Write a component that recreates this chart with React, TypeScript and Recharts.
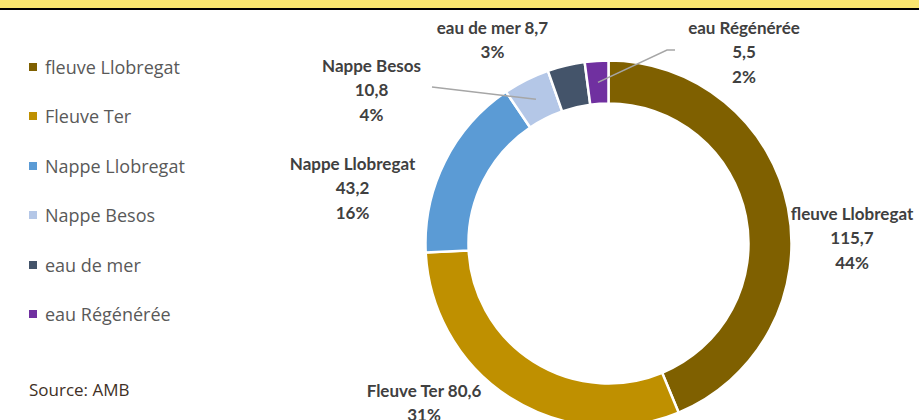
import { Cell, Pie, PieChart } from "recharts";

const categories = ["fleuve Llobregat", "Fleuve Ter", "Nappe Llobregat", "Nappe Besos", "eau de mer", "eau Régénérée"];
const volumes = [115.7, 80.6, 43.2, 10.8, 8.7, 5.5];
const shareLabels = ["44%", "31%", "16%", "4%", "3%", "2%"];

const COLORS = ["#7F6000", "#BF9000", "#5B9BD5", "#B4C7E7", "#44546A", "#7030A0"];

// where each data label sits, relative to the pie centre
const LABEL_POS = [
  { dx: 243.5, dy: -30.5, inline: false, line: null as null | number[] },
  { dx: -184.5, dy: 146.5, inline: true, line: null },
  { dx: -256, dy: -80.5, inline: false, line: null },
  { dx: -237, dy: -178.5, inline: false, line: [-176.5, -156.5, 0] },
  { dx: -116, dy: -216.5, inline: true, line: null },
  { dx: 135.5, dy: -216.5, inline: false, line: [66.5, -193.5, -8] },
];

const data = categories.map((name, i) => ({ name, value: volumes[i] }));

const fmt = (v: number) => v.toFixed(1).replace(".", ",");

const LABEL_FONT = "Lato, 'Liberation Sans', sans-serif";

function renderLabel(props: any) {
  const { cx, cy, midAngle, innerRadius, outerRadius, index } = props;
  const p = LABEL_POS[index];
  const x = cx + p.dx;
  const y0 = cy + p.dy;
  const name = categories[index];
  const val = fmt(volumes[index]);
  const lines = p.inline ? [`${name} ${val}`, shareLabels[index]] : [name, val, shareLabels[index]];

  let leader = null;
  if (p.line) {
    const RAD = Math.PI / 180;
    const r = (innerRadius + outerRadius) / 2;
    const ex = cx + r * Math.cos(-midAngle * RAD);
    const ey = cy + r * Math.sin(-midAngle * RAD);
    const sx = cx + p.line[0];
    const sy = cy + p.line[1];
    leader = (
      <polyline
        points={`${sx},${sy} ${sx + p.line[2]},${sy} ${ex},${ey}`}
        fill="none"
        stroke="#A6A6A6"
        strokeWidth={1.5}
      />
    );
  }

  return (
    <g>
      {leader}
      {lines.map((l, i) => (
        <text
          key={i}
          x={x}
          y={y0 + i * 24.5}
          textAnchor="middle"
          dominantBaseline="central"
          fill="#404040"
          fontFamily={LABEL_FONT}
          fontWeight={700}
          fontSize={17}
        >
          {l}
        </text>
      ))}
    </g>
  );
}

function ChartLegend() {
  return (
    <div
      style={{
        position: "absolute",
        left: 0,
        top: 42,
        width: 260,
        fontFamily: "'Open Sans', sans-serif",
        fontSize: 18,
        color: "#595959",
      }}
    >
      {categories.map((name, i) => (
        <div key={name} style={{ height: 49.5, display: "flex", alignItems: "center" }}>
          <span
            style={{ width: 8, height: 8, background: COLORS[i], display: "inline-block", marginLeft: 29, marginRight: 8 }}
          />
          <span>{name}</span>
        </div>
      ))}
    </div>
  );
}

export default function App() {
  return (
    <div style={{ position: "absolute", left: 0, top: 0, width: 919, height: 420, background: "#fff", overflow: "hidden" }}>
      <div style={{ position: "absolute", left: 0, top: 0, width: 919, height: 8, background: "#F9E66F" }} />
      <div style={{ position: "absolute", left: 0, top: 8, width: 919, height: 2, background: "#000" }} />
      <PieChart width={919} height={420} style={{ position: "absolute", left: 0, top: 0 }}>
        <Pie
          data={data}
          dataKey="value"
          nameKey="name"
          cx={603.5}
          cy={238.5}
          innerRadius={140}
          outerRadius={183}
          startAngle={90}
          endAngle={-270}
          stroke="#fff"
          strokeWidth={2.5}
          label={renderLabel}
          labelLine={false}
          isAnimationActive={false}
        >
          {data.map((d, i) => (
            <Cell key={d.name} fill={COLORS[i]} />
          ))}
        </Pie>
      </PieChart>
      <ChartLegend />
      <div
        style={{
          position: "absolute",
          left: 29,
          top: 378,
          fontFamily: "'Open Sans', sans-serif",
          fontSize: 17,
          color: "#403025",
          lineHeight: "24px",
        }}
      >
        Source: AMB
      </div>
    </div>
  );
}
